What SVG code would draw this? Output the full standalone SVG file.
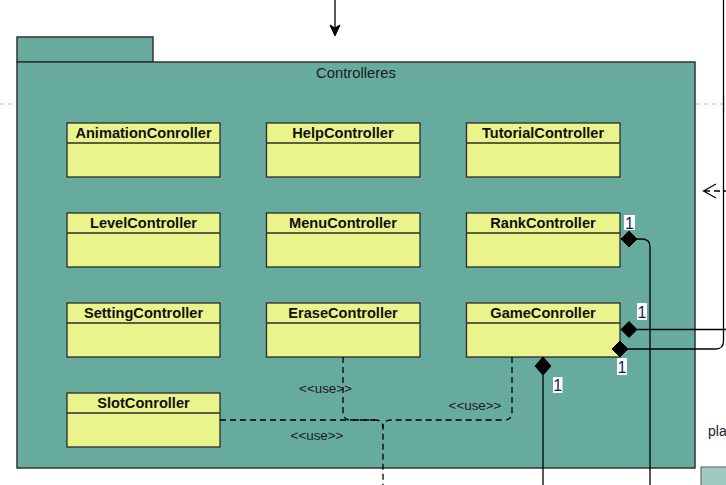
<svg xmlns="http://www.w3.org/2000/svg" width="726" height="485" viewBox="0 0 726 485">
<style>
.cls{fill:#EAF48C;stroke:#2b2b2b;stroke-width:1.3}
.cn{font-family:"Liberation Sans",Arial,sans-serif;font-weight:bold;font-size:14.6px;fill:#111;text-anchor:middle}
.use{font-family:"Liberation Sans",Arial,sans-serif;font-size:13.4px;fill:#1a1a1a;text-anchor:middle}
.one{font-family:"Liberation Sans",Arial,sans-serif;font-size:16px;fill:#1a1a5e;text-anchor:middle}
.lbl{fill:#fff}
.ln{fill:none;stroke:#000;stroke-width:1.3}
.dl{fill:none;stroke:#000;stroke-width:1.3;stroke-dasharray:6 4}
.dia{fill:#000;stroke:#000;stroke-width:1}
</style>
<rect width="726" height="485" fill="#fff"/>
<g id="background-lines">
<line x1="0" y1="104" x2="726" y2="104" stroke="#bbb" stroke-width="1" stroke-dasharray="4 4"/>
<text x="708" y="436" font-family="'Liberation Sans',Arial,sans-serif" font-size="14px" fill="#222">pla</text>
<rect x="701" y="467" width="30" height="25" fill="#9FC9C1" stroke="#777" stroke-width="1.3"/>
</g>
<g id="pkg-controlleres">
<rect x="17" y="37" width="136" height="25" fill="#67AB9F" stroke="#333" stroke-width="1.5"/>
<rect x="17" y="62" width="678" height="406" fill="#67AB9F" stroke="#333" stroke-width="1.5"/>
<text x="356" y="78" font-family="'Liberation Sans',Arial,sans-serif" font-size="14.8px" fill="#1a1a1a" text-anchor="middle">Controlleres</text>
</g>
<g id="AnimationConroller"><rect class="cls" x="67" y="123" width="153" height="54"/><line class="cls" x1="67" y1="143" x2="220" y2="143"/><text class="cn" x="143.5" y="138">AnimationConroller</text></g>
<g id="HelpController"><rect class="cls" x="266.5" y="123" width="153.5" height="54"/><line class="cls" x1="266.5" y1="143" x2="420" y2="143"/><text class="cn" x="343" y="138">HelpController</text></g>
<g id="TutorialController"><rect class="cls" x="466.5" y="123" width="153.5" height="54"/><line class="cls" x1="466.5" y1="143" x2="620" y2="143"/><text class="cn" x="543" y="138">TutorialController</text></g>
<g id="LevelController"><rect class="cls" x="67" y="213" width="153" height="54"/><line class="cls" x1="67" y1="233" x2="220" y2="233"/><text class="cn" x="143.5" y="228">LevelController</text></g>
<g id="MenuController"><rect class="cls" x="266.5" y="213" width="153.5" height="54"/><line class="cls" x1="266.5" y1="233" x2="420" y2="233"/><text class="cn" x="343" y="228">MenuController</text></g>
<g id="RankController"><rect class="cls" x="466.5" y="213" width="153.5" height="54"/><line class="cls" x1="466.5" y1="233" x2="620" y2="233"/><text class="cn" x="543" y="228">RankController</text></g>
<g id="SettingController"><rect class="cls" x="67" y="303" width="153" height="54"/><line class="cls" x1="67" y1="323" x2="220" y2="323"/><text class="cn" x="143.5" y="318">SettingController</text></g>
<g id="EraseController"><rect class="cls" x="266.5" y="303" width="153.5" height="54"/><line class="cls" x1="266.5" y1="323" x2="420" y2="323"/><text class="cn" x="343" y="318">EraseController</text></g>
<g id="GameConroller"><rect class="cls" x="466.5" y="303" width="153.5" height="54"/><line class="cls" x1="466.5" y1="323" x2="620" y2="323"/><text class="cn" x="543" y="318">GameConroller</text></g>
<g id="SlotConroller"><rect class="cls" x="67" y="393" width="153" height="54"/><line class="cls" x1="67" y1="413" x2="220" y2="413"/><text class="cn" x="143.5" y="408">SlotConroller</text></g>
<g id="connectors">
<line class="ln" x1="335" y1="0" x2="335" y2="28"/>
<path d="M330,25 L335,36 L340,25 L335,28 Z" fill="#000" stroke="#000" stroke-width="1"/>
<path class="ln" d="M723.5,0 V341 Q723.5,349 715.5,349 H628"/>
<path d="M716,184 L703.5,191 L716,198" fill="none" stroke="#000" stroke-width="1.2"/>
<line class="dl" x1="704" y1="191" x2="726" y2="191"/>
<path class="ln" d="M637,239 H642 Q650,239 650,247 V485"/>
<path class="dia" d="M621,239 L629,231 L637,239 L629,247 Z"/>
<line class="ln" x1="637" y1="329.5" x2="726" y2="329.5"/>
<path class="dia" d="M621,329.5 L629,321.5 L637,329.5 L629,337.5 Z"/>
<path class="dia" d="M612,349 L620,341 L628,349 L620,357 Z"/>
<line class="ln" x1="543" y1="375" x2="543" y2="485"/>
<path class="dia" d="M543,357 L551,366 L543,375 L535,366 Z"/>
<path class="dl" d="M343,357 V412 Q343,420 351,420 H375 Q383,420 383,428 V485"/>
<path class="dl" d="M512,357 V412 Q512,420 504,420 H391 Q383,420 383,428"/>
<path class="dl" d="M220,420 H375"/>
<rect class="lbl" x="624" y="215" width="11" height="15"/><text class="one" x="629.5" y="228.5">1</text>
<rect class="lbl" x="637" y="303" width="10" height="17"/><text class="one" x="642" y="318">1</text>
<rect class="lbl" x="617" y="358" width="10" height="17"/><text class="one" x="622" y="373">1</text>
<rect class="lbl" x="553" y="377" width="9.5" height="16"/><text class="one" x="557.75" y="391">1</text>
<text class="use" x="325.5" y="392.5">&lt;&lt;use&gt;&gt;</text>
<text class="use" x="475" y="409.5">&lt;&lt;use&gt;&gt;</text>
<text class="use" x="317" y="440">&lt;&lt;use&gt;&gt;</text>
</g>
</svg>
